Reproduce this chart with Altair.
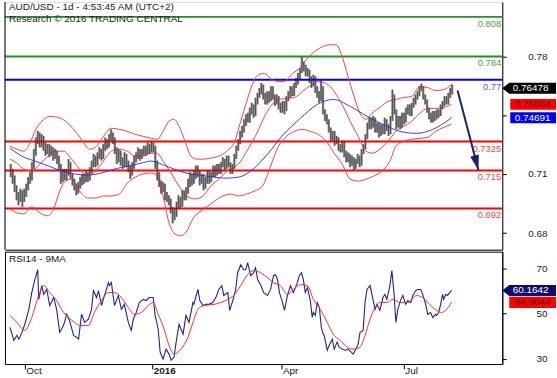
import altair as alt
import pandas as pd

TITLE_1 = "AUD/USD - 1d - 4:53:45 AM (UTC+2)"
TITLE_2 = "Research \u00a9 2016 TRADING CENTRAL"
RSI_TITLE = "RSI14 - 9MA"

FIRST_BAR = 3
CLOSE = [
    .7135, .7098, .7038, .6996, .6978, .7014, .6984, .7008, .7050, .7086,
    .7110, .7177, .7255, .7327, .7363, .7315, .7345, .7297, .7267, .7291,
    .7255, .7273, .7237, .7261, .7219, .7177, .7098, .7135, .7110, .7135,
    .7183, .7117, .7086, .7050, .7026, .7062, .7080, .7110, .7098, .7123,
    .7104, .7147, .7189, .7219, .7195, .7237, .7267, .7237, .7291, .7327,
    .7303, .7345, .7363, .7339, .7267, .7219, .7255, .7207, .7189, .7237,
    .7195, .7165, .7135, .7177, .7219, .7237, .7267, .7231, .7255, .7279,
    .7261, .7291, .7273, .7303, .7285, .7189, .7117, .7074, .7038, .7056,
    .7002, .6984, .6966, .6918, .6876, .6894, .6936, .6978, .6948, .7014,
    .6990, .7026, .7074, .7117, .7086, .7123, .7159, .7135, .7086, .7110,
    .7056, .7086, .7135, .7098, .7123, .7159, .7135, .7177, .7147, .7183,
    .7207, .7171, .7219, .7189, .7147, .7177, .7237, .7279, .7327, .7369,
    .7399, .7436, .7472, .7460, .7508, .7538, .7496, .7568, .7604, .7628,
    .7652, .7604, .7568, .7616, .7586, .7640, .7598, .7568, .7592, .7544,
    .7520, .7556, .7520, .7580, .7610, .7640, .7616, .7664, .7688, .7719,
    .7749, .7797, .7773, .7737, .7749, .7700, .7676, .7712, .7640, .7616,
    .7580, .7658, .7508, .7478, .7448, .7399, .7351, .7375, .7327, .7339,
    .7297, .7279, .7315, .7255, .7219, .7237, .7195, .7219, .7183, .7207,
    .7231, .7195, .7267, .7291, .7351, .7418, .7448, .7424, .7460, .7399,
    .7424, .7375, .7411, .7387, .7448, .7411, .7387, .7460, .7598, .7508,
    .7424, .7460, .7424, .7484, .7448, .7508, .7532, .7496, .7544, .7568,
    .7592, .7616, .7640, .7652, .7598, .7568, .7520, .7484, .7460, .7496,
    .7472, .7508, .7490, .7532, .7556, .7580, .7568, .7604, .7628, .7648,
]
HIGH = [
    .719, .716, .712, .706, .702, .704, .703, .704, .707, .711,
    .714, .720, .728, .735, .739, .738, .737, .736, .732, .731,
    .731, .730, .729, .728, .727, .724, .719, .716, .716, .716,
    .722, .720, .713, .710, .707, .708, .711, .713, .713, .715,
    .714, .717, .721, .725, .724, .726, .729, .728, .731, .735,
    .734, .737, .740, .738, .735, .729, .728, .727, .723, .726,
    .725, .721, .718, .720, .724, .726, .729, .728, .728, .730,
    .730, .732, .731, .733, .732, .730, .721, .714, .709, .708,
    .707, .702, .700, .698, .693, .692, .696, .700, .699, .703,
    .703, .705, .710, .714, .713, .715, .718, .718, .715, .713,
    .713, .711, .715, .715, .714, .718, .718, .719, .719, .720,
    .723, .722, .724, .724, .720, .719, .725, .730, .734, .739,
    .742, .746, .749, .750, .753, .756, .755, .759, .762, .765,
    .768, .767, .762, .763, .763, .766, .766, .761, .761, .760,
    .756, .757, .757, .760, .763, .766, .766, .768, .771, .774,
    .777, .7839, .781, .779, .777, .776, .772, .773, .772, .766,
    .763, .770, .766, .752, .749, .746, .741, .739, .739, .736,
    .735, .731, .733, .733, .727, .726, .725, .724, .723, .722,
    .725, .724, .728, .731, .737, .744, .747, .747, .748, .747,
    .744, .744, .743, .743, .747, .746, .743, .748, .764, .761,
    .752, .748, .748, .750, .750, .753, .755, .755, .756, .759,
    .761, .763, .766, .7676, .766, .761, .758, .753, .750, .751,
    .751, .752, .752, .755, .757, .760, .760, .762, .765, .767,
]
LOW = [
    .711, .707, .702, .697, .694, .696, .693, .696, .699, .703,
    .707, .709, .716, .724, .731, .729, .729, .727, .724, .725,
    .723, .724, .721, .722, .719, .715, .707, .708, .709, .709,
    .712, .710, .706, .703, .700, .701, .704, .706, .707, .708,
    .708, .709, .713, .717, .717, .718, .722, .721, .722, .727,
    .728, .729, .733, .731, .725, .719, .720, .718, .716, .717,
    .717, .714, .710, .712, .716, .720, .722, .721, .722, .724,
    .724, .725, .725, .726, .726, .716, .709, .705, .701, .702,
    .697, .696, .694, .689, .683, .685, .687, .692, .692, .693,
    .697, .697, .701, .705, .706, .707, .710, .711, .706, .707,
    .703, .704, .707, .707, .708, .711, .711, .712, .713, .713,
    .717, .715, .716, .717, .713, .713, .716, .722, .727, .731,
    .735, .738, .742, .744, .744, .749, .747, .748, .755, .759,
    .761, .758, .755, .755, .756, .757, .758, .754, .755, .752,
    .750, .750, .749, .751, .757, .759, .760, .760, .765, .767,
    .770, .774, .775, .772, .772, .768, .765, .766, .762, .759,
    .756, .757, .749, .745, .743, .738, .733, .733, .730, .731,
    .727, .726, .726, .723, .720, .720, .717, .718, .715, .716,
    .719, .717, .718, .725, .728, .734, .740, .740, .741, .738,
    .738, .735, .736, .737, .737, .739, .736, .737, .745, .749,
    .740, .741, .740, .741, .743, .744, .749, .748, .748, .753,
    .755, .758, .760, .763, .758, .755, .750, .746, .744, .744,
    .745, .746, .747, .748, .752, .754, .755, .755, .759, .761,
]

UPPER_X = [2.6, 6.2, 9.8, 12.9, 16.0, 19.1, 23.2, 27.3, 31.5, 35.6, 39.7, 43.9, 47.5, 51.1, 55.2, 59.3,
           63.5, 67.6, 71.7, 75.9, 78.9, 82.0, 85.1, 87.7, 90.3, 93.4, 96.5, 99.6, 102.7, 106.8, 110.9,
           115.1, 119.2, 122.3, 125.4, 128.5, 131.6, 134.7, 137.8, 141.9, 145.0, 149.1, 153.3, 156.3,
           160.5, 164.6, 168.7, 171.8, 174.9, 178.0, 181.1, 184.2, 187.3, 190.4, 194.5, 198.7, 202.8,
           206.9, 211.0, 215.2, 219.3, 223.4, 227.6, 231.7]
UPPER_Y = [.7297, .7279, .7267, .7315, .7399, .7448, .7478, .7472, .7448, .7399, .7339, .7279, .7297, .7357,
           .7406, .7399, .7387, .7369, .7357, .7345, .7339, .7387, .7448, .7460, .7418, .7327, .7237, .7219,
           .7219, .7225, .7237, .7267, .7327, .7448, .7568, .7676, .7731, .7737, .7706, .7688, .7688, .7737,
           .7773, .7821, .7869, .7899, .7911, .7911, .7839, .7719, .7598, .7496, .7460, .7496, .7532, .7568,
           .7580, .7592, .7598, .7658, .7652, .7634, .7640, .7670]

MID_X = [2.6, 6.2, 9.8, 13.9, 18.1, 22.2, 26.3, 30.4, 34.6, 38.7, 42.8, 47.0, 51.1, 55.2, 59.3, 63.5, 67.6,
         71.7, 75.9, 78.9, 82.0, 86.2, 90.3, 94.4, 98.6, 102.7, 106.8, 110.9, 115.1, 119.2, 122.3, 125.4,
         128.5, 131.6, 134.7, 137.8, 141.9, 146.0, 150.2, 154.3, 158.4, 162.5, 166.7, 170.8, 174.9, 179.1,
         183.2, 187.3, 190.4, 194.5, 198.7, 202.8, 206.9, 211.0, 215.2, 219.3, 223.4, 227.6, 231.7]
MID_Y = [.7219, .7195, .7159, .7147, .7189, .7237, .7267, .7267, .7219, .7159, .7117, .7147, .7207, .7267,
         .7279, .7267, .7237, .7237, .7255, .7255, .7207, .7135, .7056, .6996, .6978, .6996, .7056, .7098,
         .7147, .7171, .7207, .7267, .7327, .7399, .7478, .7538, .7580, .7586, .7592, .7628, .7664, .7688,
         .7676, .7628, .7550, .7448, .7357, .7267, .7255, .7279, .7327, .7387, .7418, .7448, .7496, .7526,
         .7526, .7532, .75504]

LOWER_X = [2.6, 6.2, 9.8, 13.9, 18.1, 22.2, 25.3, 28.4, 31.5, 34.6, 38.7, 42.8, 47.0, 51.1, 55.2, 59.3, 63.5,
           67.6, 71.7, 75.9, 78.9, 82.0, 85.1, 88.2, 91.3, 94.4, 97.5, 101.7, 106.8, 112.0, 117.1, 121.3,
           125.4, 129.5, 133.6, 137.8, 141.9, 146.0, 150.2, 154.3, 158.4, 162.5, 166.7, 170.8, 174.9, 179.1,
           183.2, 187.3, 191.4, 195.6, 199.7, 202.8, 206.9, 211.0, 215.2, 219.3, 223.4, 227.6, 231.7]
LOWER_Y = [.6918, .6894, .6888, .6930, .6894, .6876, .6918, .7026, .7086, .7098, .7026, .6984, .6984, .6996,
           .6996, .7008, .7074, .7110, .7129, .7135, .7117, .6996, .6834, .6767, .6755, .6785, .6858, .6906,
           .6948, .6990, .7008, .6996, .7008, .7026, .7056, .7177, .7297, .7357, .7387, .7399, .7387, .7369,
           .7327, .7255, .7189, .7098, .7086, .7098, .7117, .7147, .7207, .7297, .7327, .7339, .7345, .7351,
           .7387, .7411, .7430]

MA_X = [2.6, 8.8, 15.5, 22.7, 29.4, 36.1, 43.3, 50.1, 56.8, 64.0, 70.7, 75.9, 83.6, 93.9, 104.2, 114.6, 121.3,
        127.5, 136.2, 144.5, 153.3, 162.0, 170.3, 179.1, 187.8, 196.1, 204.9, 213.6, 221.9, 231.7]
MA_Y = [.7285, .7237, .7207, .7177, .7147, .7129, .7123, .7135, .7159, .7177, .7195, .7207, .7177, .7135,
        .7117, .7104, .7110, .7147, .7249, .7369, .7466, .7550, .7580, .7538, .7478, .7430, .7387, .7375,
        .7399, .74691]

RSI_X = [2.6, 4.6, 6.2, 7.2, 8.8, 10.3, 12.4, 13.9, 15.5, 17.0, 17.5, 19.1, 20.1, 21.7, 23.2, 25.3, 26.8, 28.4,
         30.4, 32.0, 33.5, 35.6, 37.2, 38.2, 39.7, 41.3, 43.3, 44.9, 45.9, 47.5, 48.5, 50.1, 51.6, 53.7, 54.2,
         55.2, 56.8, 58.8, 60.4, 61.9, 64.0, 65.5, 66.6, 68.1, 69.7, 71.7, 73.3, 74.8, 76.9, 77.9, 79.5, 80.5,
         82.0, 83.6, 85.1, 86.2, 87.7, 88.8, 90.3, 92.4, 93.9, 95.5, 97.5, 98.0, 100.1, 101.1, 102.7, 104.2,
         105.8, 107.8, 109.4, 110.9, 112.5, 113.5, 115.6, 116.6, 118.2, 119.7, 120.7, 122.3, 123.8, 124.9,
         125.9, 127.5, 129.0, 130.0, 131.1, 132.6, 134.2, 136.2, 137.8, 139.3, 140.4, 141.4, 142.4, 144.0,
         145.0, 146.5, 148.1, 149.6, 151.7, 152.7, 153.8, 154.8, 155.8, 156.9, 158.4, 159.4, 160.0, 161.0,
         162.0, 163.1, 164.1, 165.1, 165.6, 167.2, 168.2, 169.8, 170.8, 172.3, 173.4, 174.9, 176.5, 178.0,
         179.6, 180.6, 182.1, 183.2, 184.2, 185.8, 186.8, 187.8, 189.4, 190.9, 192.0, 193.0, 194.5, 196.1,
         197.1, 198.1, 199.7, 200.7, 201.8, 202.8, 203.8, 205.4, 206.4, 207.9, 209.0, 210.5, 211.6, 213.1,
         214.1, 215.7, 216.7, 218.3, 219.3, 220.8, 221.9, 223.4, 223.9, 225.0, 226.0, 227.0, 227.6, 228.6,
         229.6, 230.7, 231.7]
RSI_Y = [43.8, 38.1, 40.3, 38.6, 41.6, 45.2, 51.8, 59.2, 64.9, 69.3, 56.2, 62.3, 58.4, 60.6, 53.5, 57.0, 51.8,
         41.6, 44.7, 49.6, 46.9, 40.3, 39.4, 38.6, 49.6, 46.0, 47.4, 51.8, 60.1, 57.0, 60.1, 53.5, 57.9, 63.6,
         62.3, 63.6, 53.5, 57.9, 51.8, 54.0, 46.0, 42.5, 47.4, 50.4, 54.8, 56.2, 55.7, 57.0, 57.0, 49.1, 43.0,
         32.9, 29.8, 34.2, 32.0, 29.3, 30.7, 37.3, 45.2, 40.8, 49.1, 46.0, 54.8, 54.0, 60.6, 55.7, 53.5, 54.0,
         54.0, 54.8, 57.0, 60.6, 62.3, 57.9, 59.2, 51.3, 55.7, 60.6, 68.0, 71.5, 69.3, 69.3, 72.4, 66.7, 68.0,
         70.2, 64.9, 62.7, 59.2, 57.9, 60.6, 66.7, 67.1, 64.9, 59.2, 54.8, 51.3, 57.9, 62.3, 59.2, 63.6, 66.7,
         68.0, 64.9, 59.2, 61.4, 55.7, 48.2, 50.4, 49.1, 54.8, 52.6, 43.8, 40.8, 40.3, 33.7, 35.9, 38.6, 34.2,
         37.3, 35.1, 34.2, 33.7, 34.2, 32.9, 32.0, 34.2, 36.4, 41.6, 42.5, 54.8, 60.6, 62.3, 56.2, 51.8, 54.0,
         51.3, 57.0, 58.4, 56.2, 62.3, 68.9, 59.2, 46.0, 51.8, 56.2, 57.9, 54.0, 55.7, 54.8, 57.9, 60.1, 60.6,
         60.6, 58.4, 54.0, 49.6, 50.4, 48.2, 49.6, 49.1, 50.4, 54.0, 58.4, 56.2, 58.4, 57.9, 59.2, 60.1642]

RSIMA_X = [2.6, 6.2, 10.3, 13.9, 17.5, 20.1, 23.2, 26.8, 30.4, 33.0, 36.1, 38.7, 43.3, 46.4, 50.1, 53.7, 56.8,
           60.4, 64.0, 67.1, 70.7, 74.3, 76.9, 79.5, 82.6, 85.1, 87.7, 91.3, 94.9, 97.5, 100.1, 103.2, 108.4,
           112.0, 115.6, 118.7, 122.3, 125.9, 129.0, 132.6, 136.2, 139.3, 142.9, 146.5, 149.6, 153.3, 156.9,
           160.0, 163.6, 167.2, 170.3, 173.9, 177.5, 180.6, 184.2, 186.8, 189.4, 192.0, 194.5, 198.1, 201.2,
           204.9, 209.0, 213.6, 216.7, 220.3, 223.9, 226.5, 229.1, 231.7]
RSIMA_Y = [49.1, 46.0, 42.5, 48.2, 57.9, 62.3, 59.2, 55.7, 50.4, 48.2, 46.0, 44.7, 44.7, 50.4, 55.7, 59.2, 59.2,
           57.0, 52.6, 49.6, 50.4, 53.5, 54.8, 49.6, 43.0, 35.9, 32.0, 34.2, 39.4, 46.0, 51.8, 53.5, 54.0, 54.8,
           56.2, 57.9, 62.3, 67.1, 68.9, 68.0, 65.8, 63.6, 62.3, 58.4, 60.6, 62.7, 62.3, 56.2, 51.8, 46.0, 40.8,
           38.1, 35.1, 34.2, 35.1, 40.3, 47.4, 52.6, 54.8, 54.8, 56.2, 54.8, 54.8, 57.9, 57.0, 54.0, 51.3, 50.4,
           51.8, 54.9044]

LEVELS = [0.808, 0.784, 0.77, 0.7325, 0.715, 0.692]
LEVEL_LABELS = ["0.808", "0.784", "0.77", "0.7325", "0.715", "0.692"]
LEVEL_COLORS = ["#1c961c", "#1c961c", "#0000ff", "#ff0000", "#ff0000", "#ff0000"]
LEVEL_TEXT_COLORS = ["#3aa83a", "#3aa83a", "#5858ff", "#ff4444", "#ff4444", "#ff4444"]

LAST_PRICE = 0.76478
LAST_MID = 0.75504
LAST_MA = 0.74691
LAST_RSI = 60.1642
LAST_RSI_MA = 54.9044

ARROW_X = [234.8, 245.6]
ARROW_Y = [0.7634, 0.7153]

X_TICKS = [10.3, 76.4, 143.4, 206.9]
X_TICK_LABELS = ["Oct", "2016", "Apr", "Jul"]
Y_TICKS = [0.7839, 0.7484, 0.7129, 0.6771]
Y_TICK_LABELS = ["0.78", "", "0.71", "0.68"]   # the 0.75 label sits under the value boxes
RSI_TICKS = [30, 50, 70]
X_DOMAIN = [0, 258]
Y_DOMAIN = [0.6671, 0.8170]
RSI_DOMAIN = [27.6, 77.3]

W, H_MAIN, H_RSI = 500, 249, 113
NAVY = "#1b2266"
FONT = "Liberation Sans"

xs = alt.Scale(domain=X_DOMAIN, nice=False, zero=False)
ys = alt.Scale(domain=Y_DOMAIN, nice=False, zero=False)
rs = alt.Scale(domain=RSI_DOMAIN, nice=False, zero=False)


def PX(f):
    return alt.X(f, scale=xs)


def PY(f, scale):
    return alt.Y(f, scale=scale)


def label_lookup(values, labels, tol):
    return " : ".join(f"abs(datum.value - {p}) < {tol} ? '{l}'" for p, l in zip(values, labels)) + " : ''"


def right_axis(values, fmt, expr=None):
    kw = dict(orient="right", values=values, format=fmt, grid=False, domain=True,
              domainColor="#000", tickColor="#000", tickSize=4, labelAlign="right",
              labelBaseline="middle", labelPadding=41, labelFontSize=10, labelColor="#222",
              labelFont=FONT, title=None)
    if expr:
        kw["labelExpr"] = expr
    return alt.Axis(**kw)


# ---------- main panel ----------
bars_df = pd.DataFrame({"x": list(range(FIRST_BAR, FIRST_BAR + len(CLOSE))),
                        "high": HIGH, "low": LOW, "close": CLOSE})
bars_wide = alt.Chart(bars_df).mark_rule(color="#8c8c8c", strokeWidth=2.3).encode(
    x=alt.X("x:Q", scale=xs, axis=alt.Axis(labels=False, ticks=False, grid=False, domain=True,
                                           domainColor="#000", title=None)),
    y=alt.Y("low:Q", scale=ys, axis=right_axis(Y_TICKS, ".2f", label_lookup(Y_TICKS, Y_TICK_LABELS, 0.001))),
    y2="high:Q")
bars_thin = alt.Chart(bars_df).mark_rule(color="#2a2a2a", strokeWidth=0.6).encode(
    x=PX("x:Q"), y=PY("low:Q", ys), y2="high:Q")

band_rows = []
for name, bx, by, col in [("upper", UPPER_X, UPPER_Y, "#ff3a3a"), ("mid", MID_X, MID_Y, "#ff3a3a"),
                          ("lower", LOWER_X, LOWER_Y, "#ff3a3a"), ("ma", MA_X, MA_Y, "#3a3aff")]:
    for a, b in zip(bx, by):
        band_rows.append({"x": a, "y": b, "s": name, "c": col})
bands = alt.Chart(pd.DataFrame(band_rows)).mark_line(strokeWidth=1, interpolate="monotone").encode(
    x=PX("x:Q"), y=PY("y:Q", ys),
    detail="s:N", color=alt.Color("c:N", scale=None), order="x:Q")

lv_df = pd.DataFrame({"y": LEVELS, "label": LEVEL_LABELS, "c": LEVEL_COLORS, "tc": LEVEL_TEXT_COLORS})
level_rules = alt.Chart(lv_df).mark_rule(strokeWidth=2).encode(
    y=PY("y:Q", ys), color=alt.Color("c:N", scale=None))
level_text = alt.Chart(lv_df).mark_text(align="right", baseline="middle", dx=-1, dy=7,
                                        fontSize=9.5, font=FONT).encode(
    x=alt.value(W), y=PY("y:Q", ys), text="label:N",
    color=alt.Color("tc:N", scale=None))

ARROW_BOX = "M -1 0 L -0.74 -0.204 L 1 -0.204 L 1 0.204 L -0.74 0.204 Z"
PLAIN_BOX = "M -1 -0.239 L 1 -0.239 L 1 0.239 L -1 0.239 Z"


def value_box(value, text, fill, tcolor, shape, size, bx, tx, yscale):
    df = pd.DataFrame({"v": [value], "t": [text]})
    base = alt.Chart(df)
    box = base.mark_point(shape=shape, size=size, filled=True, color=fill, opacity=1).encode(
        x=alt.value(bx), y=PY("v:Q", yscale))
    txt = base.mark_text(fontSize=10, color=tcolor, align="center", baseline="middle", font=FONT).encode(
        x=alt.value(tx), y=PY("v:Q", yscale), text="t:N")
    return [box, txt]


main_boxes = (value_box(LAST_PRICE, f"{LAST_PRICE:.5f}", "#000000", "#ffffff", ARROW_BOX, 2916, 527, 528.5, ys)
              + value_box(LAST_MID, f"{LAST_MID:.5f}", "#ff0000", "#4a0000", PLAIN_BOX, 2116, 531, 530.5, ys)
              + value_box(LAST_MA, f"{LAST_MA:.5f}", "#0000ff", "#ffffff", PLAIN_BOX, 2116, 531, 530.5, ys))

arrow_df = pd.DataFrame({"x": [ARROW_X[0]], "y": [ARROW_Y[0]], "x2": [ARROW_X[1]], "y2": [ARROW_Y[1]]})
arrow_line = alt.Chart(arrow_df).mark_rule(color=NAVY, strokeWidth=2).encode(
    x=PX("x:Q"), y=PY("y:Q", ys), x2="x2:Q", y2="y2:Q")
arrow_head = alt.Chart(arrow_df).mark_point(shape="M -0.6 -2 L 0.6 -2 L 0 0 Z", size=225, filled=True,
                                            color=NAVY, opacity=1, angle=345).encode(
    x=PX("x2:Q"), y=PY("y2:Q", ys))

title1 = alt.Chart(pd.DataFrame({"t": [TITLE_1]})).mark_text(
    align="left", baseline="middle", fontSize=10, color="#222", font=FONT).encode(
    x=alt.value(4), y=alt.value(5), text="t:N")
title2 = alt.Chart(pd.DataFrame({"t": [TITLE_2]})).mark_text(
    align="left", baseline="middle", fontSize=10, color="#222", font=FONT).encode(
    x=alt.value(4), y=alt.value(17), text="t:N")
left_border = alt.Chart(pd.DataFrame({"a": [0]})).mark_rule(color="#000", strokeWidth=1).encode(
    x=alt.value(0), y=alt.value(0), y2=alt.value(H_MAIN))

main = alt.layer(bars_wide, level_rules, bands, bars_thin, level_text, arrow_line, arrow_head,
                 title1, title2, left_border, *main_boxes).properties(width=W, height=H_MAIN)

# ---------- RSI panel ----------
bold_test = f"abs(datum.value - {X_TICKS[X_TICK_LABELS.index('2016')]}) < 1"
rsi_df = pd.DataFrame({"x": RSI_X, "v": RSI_Y})
rsima_df = pd.DataFrame({"x": RSIMA_X, "v": RSIMA_Y})
rsi_line = alt.Chart(rsi_df).mark_line(color="#23238f", strokeWidth=1.1).encode(
    x=alt.X("x:Q", scale=xs, axis=alt.Axis(values=X_TICKS, labelExpr=label_lookup(X_TICKS, X_TICK_LABELS, 1),
                                           labelFontWeight=alt.condition(bold_test, alt.value("bold"), alt.value("normal")),
                                           labelAlign="left", labelOffset=1, labelBaseline="top",
                                           tickSize=5, labelPadding=-4, grid=False, domain=False,
                                           tickColor="#000", labelFontSize=10, labelColor="#222",
                                           labelFont=FONT, title=None)),
    y=alt.Y("v:Q", scale=rs, axis=right_axis(RSI_TICKS, "d")))
rsima_line = alt.Chart(rsima_df).mark_line(color="#ff2a2a", strokeWidth=1, interpolate="monotone").encode(
    x=PX("x:Q"), y=PY("v:Q", rs))
rsi_title = alt.Chart(pd.DataFrame({"t": [RSI_TITLE]})).mark_text(
    align="left", baseline="middle", fontSize=10, color="#222", font=FONT).encode(
    x=alt.value(4), y=alt.value(7), text="t:N")
rsi_boxes = (value_box(LAST_RSI, f"{LAST_RSI:.4f}", "#0c0c6e", "#ffffff", ARROW_BOX, 2916, 527, 528.5, rs)
             + value_box(LAST_RSI_MA, f"{LAST_RSI_MA:.4f}", "#ff0000", "#4a0000", PLAIN_BOX, 2209, 530.5, 530.5, rs))

rsi = alt.layer(rsi_line, rsima_line, rsi_title, *rsi_boxes).properties(
    width=W, height=H_RSI, view=alt.ViewBackground(stroke="#000", strokeWidth=1))

chart = alt.vconcat(main, rsi, spacing=0).properties(
    padding={"left": 3, "top": 0, "right": 0, "bottom": 0}, background="white"
).configure_view(stroke=None).configure_axis(grid=False).configure(font=FONT)

chart.save("out.html", embed_options={"renderer": "svg", "actions": False})
